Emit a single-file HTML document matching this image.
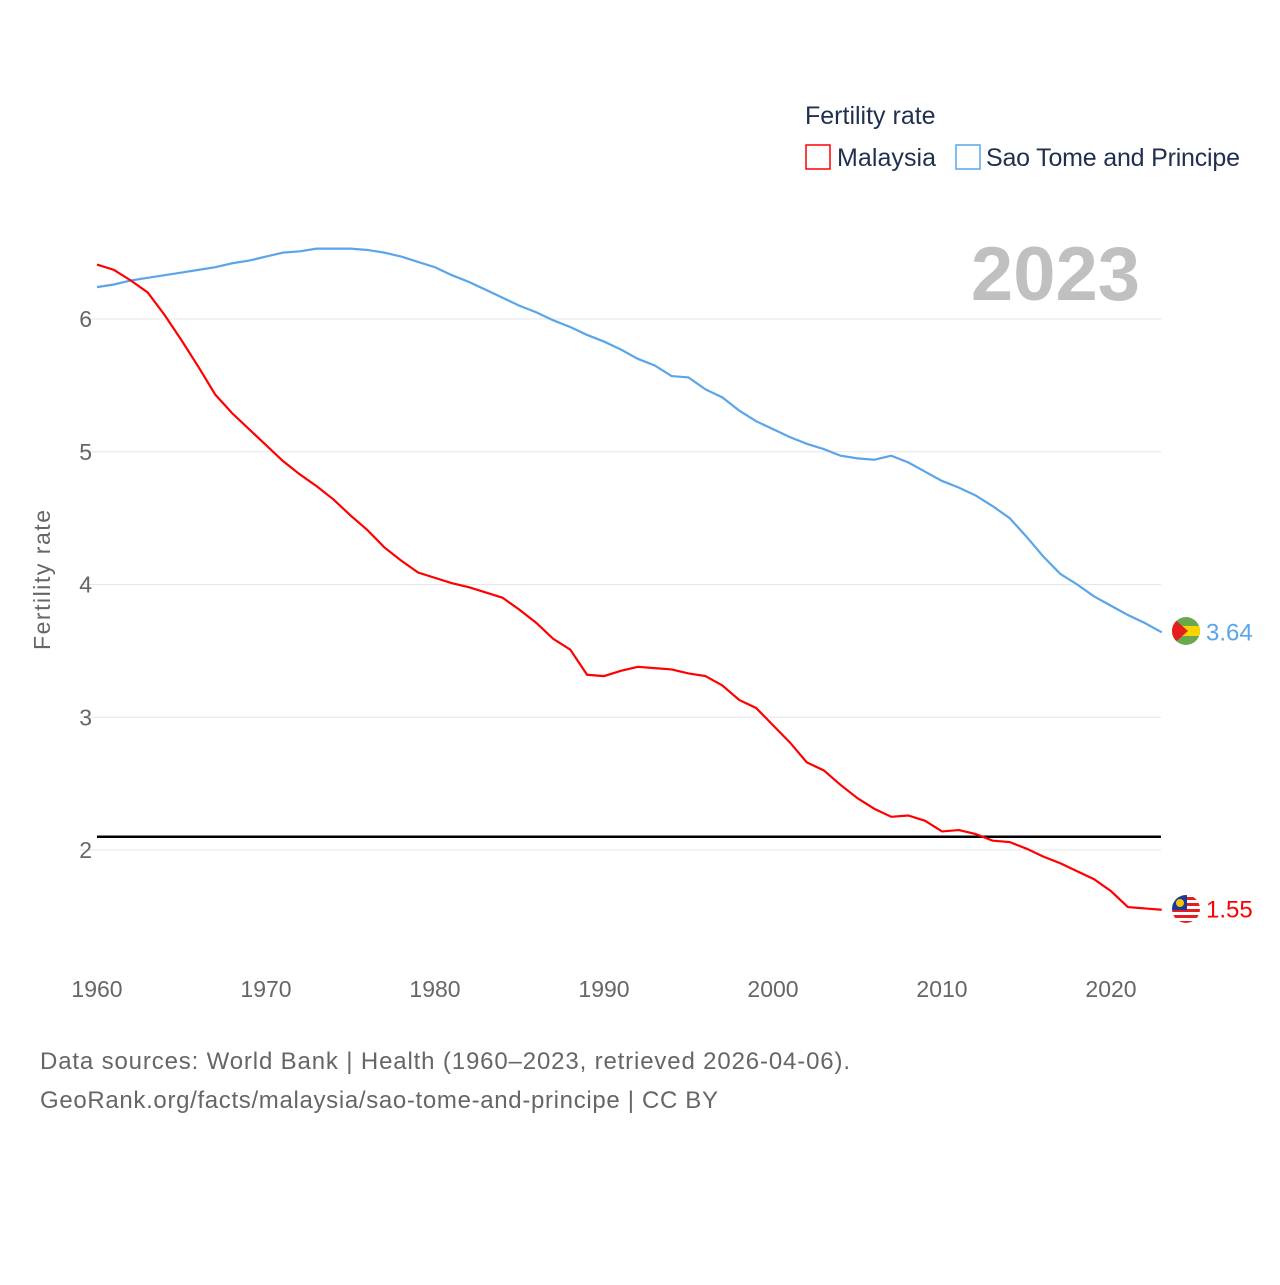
<!DOCTYPE html>
<html><head><meta charset="utf-8"><style>
body{margin:0;background:#fff;font-family:"Liberation Sans",sans-serif}
svg text{font-family:"Liberation Sans",sans-serif}
</style></head><body>
<svg id="chart" width="1280" height="1280" viewBox="0 0 1280 1280">
<defs>
<clipPath id="c1"><circle cx="1186" cy="909" r="14"/></clipPath>
<clipPath id="c2"><circle cx="1186" cy="631" r="14"/></clipPath>
</defs>
<g id="grid"></g>
<text x="805" y="124" font-size="25" fill="#1e2f4f">Fertility rate</text>
<g>
<rect x="806" y="145" width="24" height="24" fill="none" stroke="#ff0000" stroke-width="1.5"/>
<text x="837" y="166" font-size="25" fill="#1e2f4f" textLength="99">Malaysia</text></g>
<g>
<rect x="956" y="145" width="24" height="24" fill="none" stroke="#5aa5ea" stroke-width="1.5"/>
<text x="986" y="166" font-size="25" fill="#1e2f4f" textLength="254">Sao Tome and Principe</text></g>
<text x="1140" y="300" font-size="76" font-weight="bold" fill="#c0c0c0" text-anchor="end">2023</text>
<text transform="translate(50,580) rotate(-90)" font-size="23" fill="#666" text-anchor="middle" textLength="140">Fertility rate</text>
<g id="series"></g>
<g clip-path="url(#c1)">
<rect x="1172" y="895" width="28" height="28" fill="#fff"/>
<rect x="1172" y="897" width="28" height="3" fill="#e51d1d"/>
<rect x="1172" y="903" width="28" height="3" fill="#e51d1d"/>
<rect x="1172" y="909" width="28" height="3" fill="#e51d1d"/>
<rect x="1172" y="915" width="28" height="3" fill="#e51d1d"/>
<rect x="1172" y="921" width="28" height="3" fill="#e51d1d"/>
<rect x="1172" y="895" width="15" height="15" fill="#1a3a9a"/>
<circle cx="1180" cy="903" r="4" fill="#f5c400"/>
</g>
<g clip-path="url(#c2)">
<rect x="1172" y="617" width="28" height="28" fill="#6aa84f"/>
<rect x="1172" y="626" width="28" height="10" fill="#f5d400"/>
<polygon points="1172,617 1188,631 1172,645" fill="#e51d1d"/>
</g>
<text x="40" y="1069" font-size="24" fill="#666" textLength="810">Data sources: World Bank | Health (1960–2023, retrieved 2026-04-06).</text>
<text x="40" y="1108" font-size="24" fill="#666" textLength="678">GeoRank.org/facts/malaysia/sao-tome-and-principe | CC BY</text>
</svg>
<script>
const years=[];for(let y=1960;y<=2023;y++)years.push(y);
const malaysia=[6.41,6.37,6.29,6.2,6.03,5.84,5.64,5.43,5.29,5.17,5.05,4.93,4.83,4.74,4.64,4.52,4.41,4.28,4.18,4.09,4.05,4.01,3.98,3.94,3.9,3.81,3.71,3.59,3.51,3.32,3.31,3.35,3.38,3.37,3.36,3.33,3.31,3.24,3.13,3.07,2.94,2.81,2.66,2.6,2.49,2.39,2.31,2.25,2.26,2.22,2.14,2.15,2.12,2.07,2.06,2.01,1.95,1.9,1.84,1.78,1.69,1.57,1.56,1.55];
const saoTome=[6.24,6.26,6.29,6.31,6.33,6.35,6.37,6.39,6.42,6.44,6.47,6.5,6.51,6.53,6.53,6.53,6.52,6.5,6.47,6.43,6.39,6.33,6.28,6.22,6.16,6.1,6.05,5.99,5.94,5.88,5.83,5.77,5.7,5.65,5.57,5.56,5.47,5.41,5.31,5.23,5.17,5.11,5.06,5.02,4.97,4.95,4.94,4.97,4.92,4.85,4.78,4.73,4.67,4.59,4.5,4.36,4.21,4.08,4.0,3.91,3.84,3.77,3.71,3.64];
const yTicks=[2,3,4,5,6];
const xTicks=[1960,1970,1980,1990,2000,2010,2020];
const replacement=[2.1];
const NS="http://www.w3.org/2000/svg";
const xs=y=>97+(y-1960)*(1014/60);
const ys=v=>850-(v-2)*132.75;
function mk(t,a,p){const e=document.createElementNS(NS,t);for(const k in a)e.setAttribute(k,a[k]);p.appendChild(e);return e;}
const grid=document.getElementById('grid'),ser=document.getElementById('series');
yTicks.forEach(v=>{
 const l=mk('line',{x1:80,x2:1161,y1:ys(v),y2:ys(v),stroke:'#e6e6e6'},grid);
 
 
 const t=mk('text',{x:92,y:ys(v)+8,'font-size':23,fill:'#666','text-anchor':'end'},grid);t.textContent=v;
 
 
});
xTicks.forEach(v=>{
 const t=mk('text',{x:xs(v),y:997,'font-size':23,fill:'#666','text-anchor':'middle'},grid);t.textContent=v;
 
 
});
replacement.forEach(v=>{
 const l=mk('line',{x1:97,x2:1161,y1:ys(v),y2:ys(v),stroke:'#000','stroke-width':2.5},ser);
 
 
});
function line(data,color,name){
 const p=mk('polyline',{points:data.map((v,i)=>xs(years[i])+','+ys(v)).join(' '),fill:'none',stroke:color,'stroke-width':2.2},ser);
 
 
 const last=data[data.length-1],cy=ys(last);
 const t=mk('text',{x:1206,y:cy+8,'font-size':24,fill:color},ser);t.textContent=last.toFixed(2);
 
 
}
line(saoTome,'#5aa5ea','sao-tome-line');
line(malaysia,'#ff0000','malaysia-line');
</script>
</body></html>
